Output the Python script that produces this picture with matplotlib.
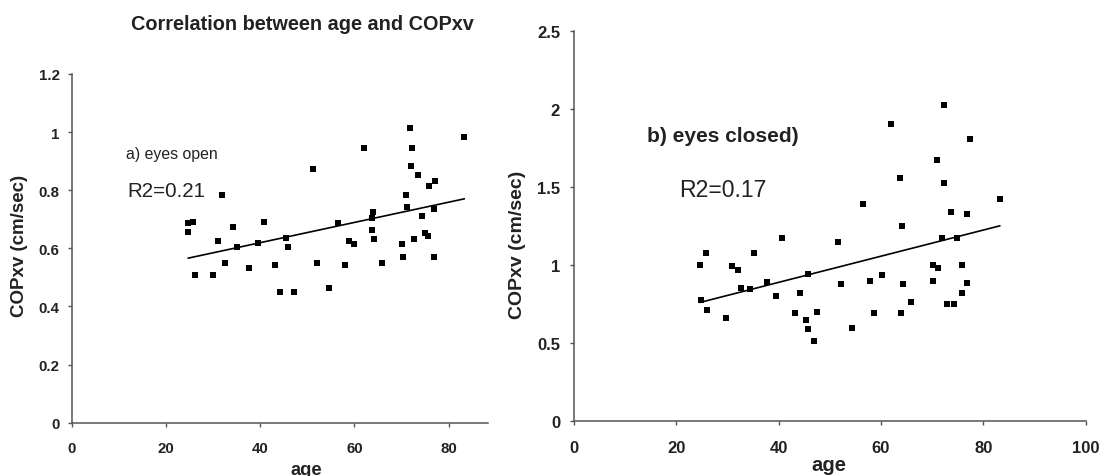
import numpy as np
import matplotlib
matplotlib.use("Agg")
import matplotlib.pyplot as plt

# ---- data ----
age_open = [24.7, 24.7, 25.7, 26.1, 30.0, 31.0, 31.8, 32.6, 34.1, 35.0, 37.7, 39.6,
            40.7, 43.1, 44.1, 45.5, 45.9, 47.2, 51.2, 52.1, 54.5, 56.5, 58.0, 58.8,
            60.0, 62.0, 63.9, 63.8, 63.8, 64.2, 65.9, 70.2, 70.3, 71.0, 71.2, 71.9,
            72.3, 72.1, 72.7, 73.5, 74.4, 75.0, 75.6, 75.8, 76.9, 77.2, 76.8, 83.3]
cop_open = [0.686, 0.656, 0.692, 0.510, 0.510, 0.625, 0.784, 0.551, 0.675, 0.605, 0.532, 0.617,
            0.692, 0.542, 0.451, 0.634, 0.605, 0.451, 0.874, 0.551, 0.462, 0.686, 0.542, 0.625,
            0.615, 0.944, 0.725, 0.704, 0.663, 0.632, 0.551, 0.615, 0.569, 0.784, 0.744, 1.014,
            0.944, 0.884, 0.632, 0.853, 0.712, 0.653, 0.643, 0.813, 0.734, 0.831, 0.569, 0.982]

age_closed = [24.7, 24.8, 25.8, 26.0, 29.8, 30.9, 32.0, 32.6, 34.3, 35.1, 37.8, 39.5,
              40.7, 43.1, 44.2, 45.4, 45.8, 45.8, 46.9, 47.4, 51.5, 52.2, 54.4, 56.4,
              57.9, 58.7, 60.1, 62.0, 63.8, 63.9, 64.1, 64.2, 65.8, 70.1, 70.2, 70.9,
              71.2, 71.9, 72.3, 72.4, 72.8, 73.6, 74.3, 74.9, 75.8, 75.8, 76.8, 76.8,
              77.3, 83.2]
cop_closed = [1.000, 0.774, 1.074, 0.710, 0.659, 0.989, 0.965, 0.853, 0.842, 1.074, 0.887, 0.799,
              1.170, 0.691, 0.821, 0.646, 0.590, 0.938, 0.514, 0.695, 1.144, 0.874, 0.597, 1.387,
              0.897, 0.691, 0.936, 1.905, 1.556, 0.691, 1.249, 0.874, 0.761, 1.000, 0.897, 1.673,
              0.980, 1.168, 2.025, 1.526, 0.750, 1.338, 0.750, 1.170, 1.000, 0.818, 1.324, 0.884,
              1.805, 1.422]

xticks_a = [0, 20, 40, 60, 80]
yticks_a = [0, 0.2, 0.4, 0.6, 0.8, 1.0, 1.2]
yticklabels_a = ["0", "0.2", "0.4", "0.6", "0.8", "1", "1.2"]
xticks_b = [0, 20, 40, 60, 80, 100]
yticks_b = [0, 0.5, 1.0, 1.5, 2.0, 2.5]
yticklabels_b = ["0", "0.5", "1", "1.5", "2", "2.5"]

title = "Correlation between age and COPxv"
ylabel = "COPxv (cm/sec)"
xlabel = "age"
label_a = "a) eyes open"
label_b = "b) eyes closed)"
r2_a = "R2=0.21"
r2_b = "R2=0.17"

# ---- figure ----
plt.rcParams['font.family'] = ['Liberation Sans', 'DejaVu Sans']
W, H = 1102, 477
fig = plt.figure(figsize=(W / 100, H / 100), dpi=100)
fig.patch.set_facecolor('white')

def fx(px):
    return px / W

def fy(py):
    return 1 - py / H

TXT = '#222222'
AX = '#555555'

ax1 = fig.add_axes([fx(72), fy(423.7), fx(487.7) - fx(72), fy(75) - fy(423.7)])
ax2 = fig.add_axes([fx(574), fy(421.7), fx(1085.7) - fx(574), fy(31.7) - fy(421.7)])


def style(ax, xt, yt, ytl, fs, xpad, ypad):
    for s in ['top', 'right']:
        ax.spines[s].set_visible(False)
    for s in ['left', 'bottom']:
        ax.spines[s].set_color(AX)
        ax.spines[s].set_linewidth(1.1)
    ax.set_xticks(xt)
    ax.set_xticklabels([str(v) for v in xt])
    ax.set_yticks(yt)
    ax.set_yticklabels(ytl)
    ax.tick_params(axis='both', direction='out', length=3, width=1, color=AX,
                   labelcolor=TXT, labelsize=fs)
    ax.tick_params(axis='x', pad=xpad)
    ax.tick_params(axis='y', pad=ypad)
    for lab in ax.get_xticklabels() + ax.get_yticklabels():
        lab.set_fontweight('bold')


def scatter_fit(ax, x, y, ms):
    x = np.asarray(x)
    y = np.asarray(y)
    ax.plot(x, y, linestyle='none', marker='s', markersize=ms,
            color='black', markeredgewidth=0, clip_on=False)
    k, b = np.polyfit(x, y, 1)
    xx = np.array([x.min(), x.max()])
    ax.plot(xx, k * xx + b, color='black', linewidth=1.2)


scatter_fit(ax1, age_open, cop_open, 4.5)
ax1.set_xlim(0, 88.3)
ax1.set_ylim(0, 1.2)
style(ax1, xticks_a, yticks_a, yticklabels_a, 10.8, 10, 6)

scatter_fit(ax2, age_closed, cop_closed, 4.7)
ax2.set_xlim(0, 100)
ax2.set_ylim(0, 2.5)
style(ax2, xticks_b, yticks_b, yticklabels_b, 12, 11, 7)

# titles and labels
fig.text(fx(131), fy(30), title, ha='left', va='baseline', fontsize=14.3,
         fontweight='bold', color=TXT)

fig.text(fx(20), fy(246), ylabel, rotation=90, ha='center', va='center',
         fontsize=13.5, fontweight='bold', color=TXT)
fig.text(fx(518), fy(245), ylabel, rotation=90, ha='center', va='center',
         fontsize=14, fontweight='bold', color=TXT)

fig.text(fx(306), fy(474.6), xlabel, ha='center', va='baseline',
         fontsize=13.2, fontweight='bold', color=TXT)
fig.text(fx(829), fy(470.6), xlabel, ha='center', va='baseline',
         fontsize=14.6, fontweight='bold', color=TXT)

fig.text(fx(125.7), fy(159.3), label_a, ha='left', va='baseline',
         fontsize=11.4, color=TXT)
fig.text(fx(127.3), fy(196.7), r2_a, ha='left', va='baseline',
         fontsize=14.8, color=TXT)
fig.text(fx(646.7), fy(141.7), label_b, ha='left', va='baseline',
         fontsize=15, fontweight='bold', color=TXT)
fig.text(fx(679), fy(197.3), r2_b, ha='left', va='baseline',
         fontsize=16.6, color=TXT)

fig.savefig('out.png', dpi=100, facecolor='white')
